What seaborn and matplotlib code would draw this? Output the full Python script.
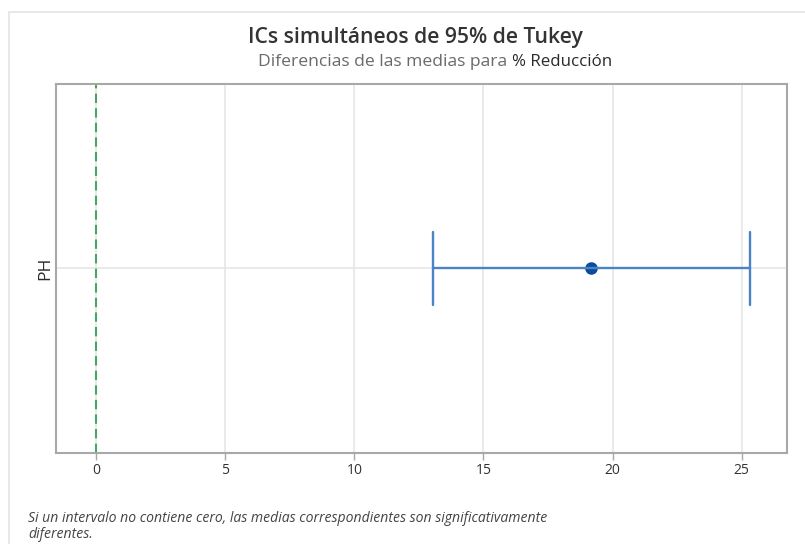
import matplotlib
matplotlib.use("Agg")
import matplotlib.pyplot as plt
import matplotlib.patches as mpatches
import seaborn as sns
import pandas as pd

# Tukey simultaneous 95% CI for the difference of means
comparisons = ["PH"]
ci_lower = [13.06]
ci_center = [19.18]
ci_upper = [25.30]
x_ticks = [0, 5, 10, 15, 20, 25]

sns.set_theme(style="white")
plt.rcParams["font.family"] = ["Open Sans", "DejaVu Sans"]

# long-form table: lower / centre / upper per comparison; median = estimate, full range = interval
rows = []
for name, lo, c, hi in zip(comparisons, ci_lower, ci_center, ci_upper):
    for v in (lo, c, hi):
        rows.append({"Comparación": name, "Diferencia": v})
df = pd.DataFrame(rows)

fig = plt.figure(figsize=(8.05, 5.44), dpi=100)
ax = fig.add_axes([0.0696, 0.1673, 0.9080, 0.6783])

# vertical grid lines and the horizontal line through each comparison
for t in x_ticks:
    ax.axvline(t, color="#e6e6e6", lw=1.2, zorder=0)
for i in range(len(comparisons)):
    ax.axhline(i, color="#e6e6e6", lw=1.2, zorder=0)

sns.pointplot(
    data=df, x="Diferencia", y="Comparación", orient="h",
    estimator="median", errorbar=("pi", 100), capsize=0.2,
    linestyle="none", marker="o", markersize=7,
    color="#0b4c9c", err_kws={"color": "#4a84c6", "linewidth": 1.7},
    ax=ax, zorder=3,
)

# reference line at zero
ax.axvline(0, color="#45a95c", lw=1.5, ls=(0, (4.5, 2.5)), zorder=2)

ax.set_xlim(-1.55, 26.75)
ax.set_ylim(0.5, -0.5)
ax.set_xticks(x_ticks)
ax.set_xticklabels([str(t) for t in x_ticks])
ax.set_xlabel("")
ax.set_ylabel("")
ax.tick_params(axis="x", which="both", bottom=True, length=5, width=1,
               color="#a8a8a8", labelsize=10, labelcolor="#333333", pad=2)
ax.tick_params(axis="y", left=False, labelsize=12.5, labelcolor="#2a2a2a", pad=-4)
for lbl in ax.get_yticklabels():
    lbl.set_rotation(90)
    lbl.set_va("center")
for s in ax.spines.values():
    s.set_visible(True)
    s.set_color("#a8a8a8")
    s.set_linewidth(1.5)

# outer frame
fig.patches.append(mpatches.Rectangle((9 / 805, -0.1), 1.2, (544 - 12) / 544 + 0.1,
                                      transform=fig.transFigure, fill=False,
                                      edgecolor="#e4e4e4", linewidth=1.2))

fig.text(415 / 805, 1 - 38 / 544, "ICs simultáneos de 95% de Tukey", ha="center", va="center",
         fontsize=15.2, fontweight="semibold", color="#333333")
fig.text(507 / 805, 1 - 62 / 544, "Diferencias de las medias para", ha="right", va="center",
         fontsize=12.6, color="#6a6a6a")
fig.text(512 / 805, 1 - 62 / 544, "% Reducción", ha="left", va="center",
         fontsize=12.2, fontweight="medium", color="#2a2a2a")

fig.text(28 / 805, 1 - 518 / 544,
         "Si un intervalo no contiene cero, las medias correspondientes son significativamente",
         ha="left", va="center", fontsize=10.1, style="italic", color="#444444")
fig.text(28 / 805, 1 - 535 / 544, "diferentes.", ha="left", va="center",
         fontsize=10.1, style="italic", color="#444444")

fig.savefig("out.png", dpi=100, facecolor="white")
